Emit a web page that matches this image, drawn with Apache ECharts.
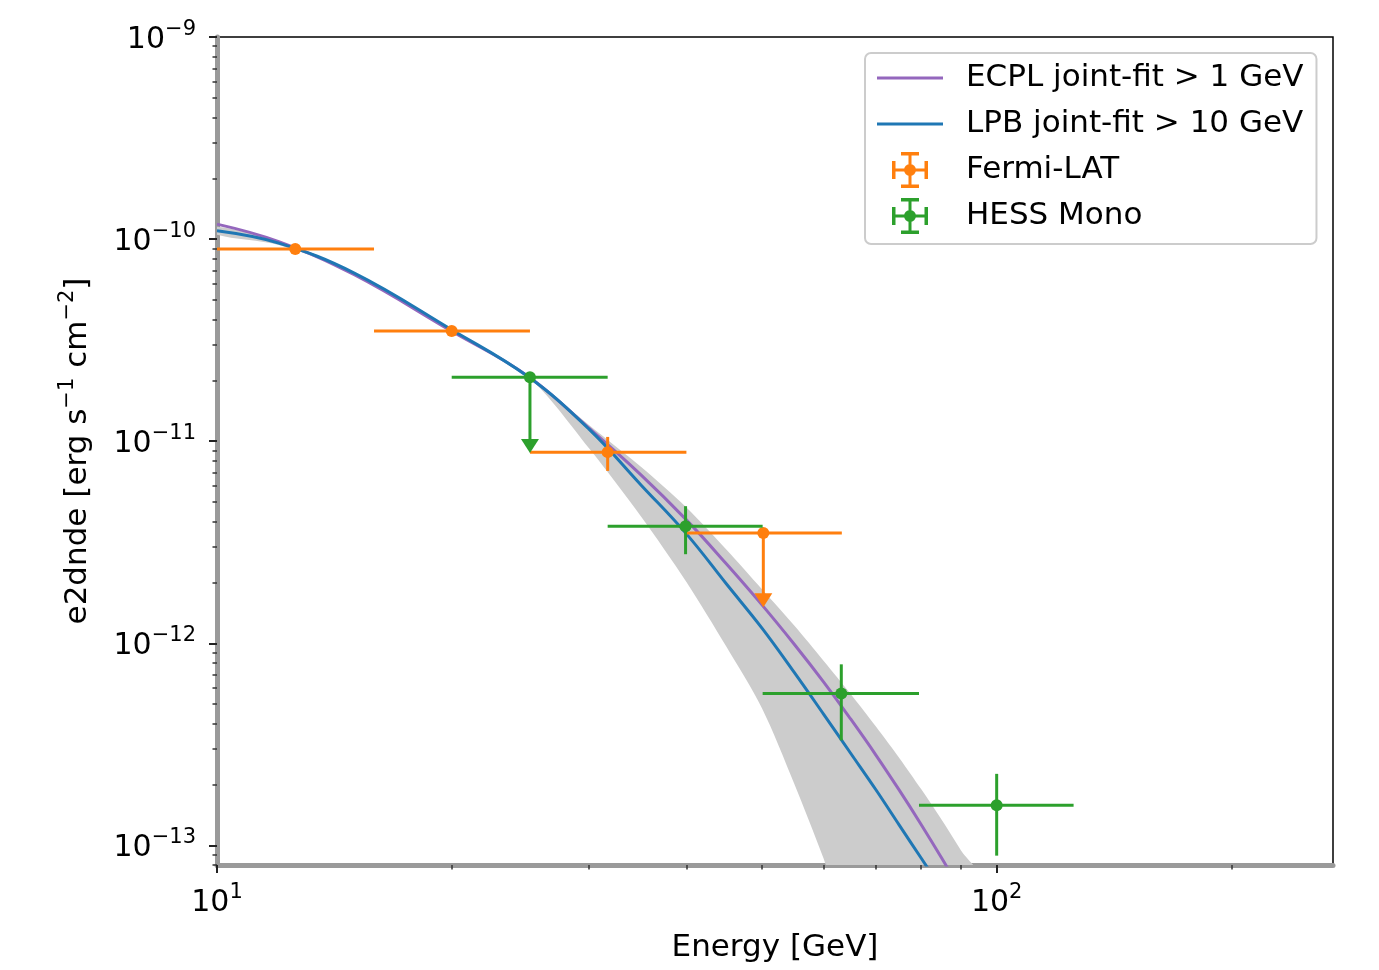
<!DOCTYPE html>
<html><head><meta charset="utf-8">
<script src="https://cdn.jsdelivr.net/npm/echarts@6/dist/echarts.min.js"></script>
<style>html,body{margin:0;padding:0;background:#fff}#c{width:1379px;height:970px}</style>
</head><body><div id="c"></div>
<script>
// ---- model curves ----
const ecplE = [10,12,15,20,25,30,35,40,45,50,55,60,65,70,75,80,85,90];
const ecplFlux = [1.186e-10,9.72e-11,6.66e-11,3.50e-11,2.11e-11,1.16e-11,6.80e-12,4.08e-12,2.475e-12,1.55e-12,9.90e-13,6.43e-13,4.21e-13,2.80e-13,1.876e-13,1.27e-13,8.66e-14,5.95e-14];
const lpbE = [10,12,15,20,25,30,35,40,45,50,55,60,65,70,75,80,85];
const lpbFlux = [1.099e-10,9.55e-11,6.79e-11,3.56e-11,2.10e-11,1.147e-11,6.06e-12,3.48e-12,1.97e-12,1.189e-12,7.18e-13,4.45e-13,2.85e-13,1.885e-13,1.26e-13,8.66e-14,6.09e-14];
// uncertainty band
const bandUpE = [10,12,15,20,25,30,35,40,45,50,55,60,65,70,75,80,85,90,95];
const bandUp = [1.15e-10,9.77e-11,6.86e-11,3.60e-11,2.14e-11,1.204e-11,7.45e-12,4.70e-12,2.91e-12,1.85e-12,1.224e-12,8.18e-13,5.60e-13,3.88e-13,2.71e-13,1.90e-13,1.339e-13,9.44e-14,6.74e-14];
const bandLoE = [10,12,15,20,25,30,35,40,45,50,55,60,65];
const bandLo = [1.05e-10,9.34e-11,6.71e-11,3.50e-11,2.10e-11,9.23e-12,4.23e-12,2.011e-12,9.63e-13,4.77e-13,2.02e-13,8.58e-14,3.60e-14];
// ---- flux points ----
const fermiE = [12.6,20.0,31.7,50.2];
const fermiElo = [10.0,15.9,25.2,40.0];
const fermiEhi = [15.9,25.2,40.0,63.3];
const fermiF = [8.93e-11,3.51e-11,8.83e-12,3.51e-12];
const fermiFlo = [8.6e-11,3.38e-11,7.13e-12,1.51e-12];
const fermiFhi = [9.3e-11,3.65e-11,1.05e-11,3.51e-12];
const fermiUL = [0,0,0,1];
const hessE = [25.2,39.9,63.2,100];
const hessElo = [20.0,31.7,50.1,79.5];
const hessEhi = [31.7,50.1,79.5,125.5];
const hessF = [2.07e-11,3.79e-12,5.64e-13,1.58e-13];
const hessFlo = [8.75e-12,2.76e-12,3.31e-13,8.9e-14];
const hessFhi = [2.07e-11,4.77e-12,7.87e-13,2.26e-13];
const hessUL = [1,0,0,0];
// ---- ticks ----
const xMajor = [10,100];
const xMinor = [20,30,40,50,60,70,80,90,200];
const yMajor = [1e-13,1e-12,1e-11,1e-10,1e-9];
const yMinor = [];
for (let d=-14; d<=-10; d++) for (let k=2; k<=9; k++) { const v=k*Math.pow(10,d); if (v>=8e-14 && v<=1e-9) yMinor.push(v); }

const FONT = 'DejaVu Sans';
function pairs(xs, ys){ return xs.map((x,i)=>[x,ys[i]]); }
function rows(E,lo,hi,F,Flo,Fhi,UL){ return E.map((e,i)=>[e,F[i],lo[i],hi[i],Flo[i],Fhi[i],UL[i]]); }
function expLabel(v){ const e=Math.round(Math.log10(v)); return '{b|10}{s|'+(e<0?'\u2212':'')+Math.abs(e)+'}'; }
const labelRich = {
  b:{fontFamily:FONT,fontSize:30,lineHeight:36,verticalAlign:'bottom',color:'#000'},
  s:{fontFamily:FONT,fontSize:21,lineHeight:20,verticalAlign:'top',color:'#000'}
};
function errRender(color){
  return function(params, api){
    const p = api.coord([api.value(0), api.value(1)]);
    const l = api.coord([api.value(2), api.value(1)]);
    const r = api.coord([api.value(3), api.value(1)]);
    const lo = api.coord([api.value(0), api.value(4)]);
    const hi = api.coord([api.value(0), api.value(5)]);
    const ch = [{type:'line',shape:{x1:l[0],y1:l[1],x2:r[0],y2:r[1]},style:{stroke:color,lineWidth:3}}];
    if (api.value(6)) {
      ch.push({type:'line',shape:{x1:p[0],y1:p[1],x2:lo[0],y2:lo[1]-12},style:{stroke:color,lineWidth:3}});
      ch.push({type:'polygon',shape:{points:[[lo[0]-9,lo[1]-14],[lo[0]+9,lo[1]-14],[lo[0],lo[1]]]},style:{fill:color}});
    } else {
      ch.push({type:'line',shape:{x1:hi[0],y1:hi[1],x2:lo[0],y2:lo[1]},style:{stroke:color,lineWidth:3}});
    }
    ch.push({type:'circle',shape:{cx:p[0],cy:p[1],r:6},style:{fill:color}});
    return {type:'group',children:ch};
  };
}
const lineIcon = 'path://M0,0M66,36M0,16.5h66v3h-66z';
const errIcon = 'path://M0,0M66,36M15,16.5h36v3h-36zM31.5,0h3v36h-3zM15,9h3.5v18h-3.5zM47.5,9h3.5v18h-3.5zM24,0h18v3.5h-18zM24,32.5h18v3.5h-18zM27,18a6,6 0 1,1 12,0a6,6 0 1,1 -12,0z';

const chart = echarts.init(document.getElementById('c'));
chart.setOption({
  animation:false,
  backgroundColor:'#fff',
  grid:{left:217,right:46,top:37,bottom:105,show:true,borderColor:'#000',borderWidth:1.5,backgroundColor:'transparent'},
  legend:{
    left:865, top:53, orient:'vertical', itemWidth:66, itemHeight:36, itemGap:10,
    padding:[7,13,10,12], backgroundColor:'rgba(255,255,255,0.8)', borderColor:'#cccccc', borderWidth:2, borderRadius:6,
    selectedMode:false, itemStyle:{borderWidth:0},
    textStyle:{fontFamily:FONT,fontSize:31,color:'#000',padding:[0,0,0,18],lineHeight:36},
    data:[
      {name:'ECPL joint-fit > 1 GeV',icon:lineIcon},
      {name:'LPB joint-fit > 10 GeV',icon:lineIcon},
      {name:'Fermi-LAT',icon:errIcon},
      {name:'HESS Mono',icon:errIcon}
    ]
  },
  xAxis:[
    {type:'log',logBase:10,min:10,max:270,position:'bottom',
     axisLine:{show:true,lineStyle:{color:'#9a9a9a',width:5}},
     axisTick:{show:true,customValues:xMajor,length:8,lineStyle:{color:'#222',width:2}},
     axisLabel:{customValues:xMajor,formatter:expLabel,rich:labelRich,margin:17},
     splitLine:{show:false},minorTick:{show:false},
     name:'Energy [GeV]',nameLocation:'middle',nameGap:67,
     nameTextStyle:{fontFamily:FONT,fontSize:31,color:'#000'}},
    {type:'log',logBase:10,min:10,max:270,position:'bottom',
     axisLine:{show:false},axisLabel:{show:false},splitLine:{show:false},
     axisTick:{show:true,customValues:xMinor,length:4.5,lineStyle:{color:'#333',width:1.5}}}
  ],
  yAxis:[
    {type:'log',logBase:10,min:8e-14,max:1e-9,position:'left',
     axisLine:{show:true,lineStyle:{color:'#9a9a9a',width:5}},
     axisTick:{show:true,customValues:yMajor,length:8,lineStyle:{color:'#222',width:2}},
     axisLabel:{customValues:yMajor,formatter:expLabel,rich:labelRich,margin:21},
     splitLine:{show:false},
     name:'{n|e2dnde [erg s}{s|\u22121}{n| cm}{s|\u22122}{n|]}',nameLocation:'middle',nameGap:124,nameRotate:90,
     nameTextStyle:{fontFamily:FONT,fontSize:31,color:'#000',rich:{
       n:{fontFamily:FONT,fontSize:31,lineHeight:36,verticalAlign:'bottom',color:'#000'},
       s:{fontFamily:FONT,fontSize:21,lineHeight:20,verticalAlign:'top',color:'#000'}}}},
    {type:'log',logBase:10,min:8e-14,max:1e-9,position:'left',
     axisLine:{show:false},axisLabel:{show:false},splitLine:{show:false},
     axisTick:{show:true,customValues:yMinor,length:4.5,lineStyle:{color:'#333',width:1.5}}}
  ],
  series:[
    {type:'custom',name:'band',clip:true,z:1,silent:true,
     data:[[bandUpE[0],bandUp[0]]],encode:{x:0,y:1},
     renderItem:function(params, api){
       const pts=[];
       for(let i=0;i<bandUpE.length;i++) pts.push(api.coord([bandUpE[i],bandUp[i]]));
       for(let i=bandLoE.length-1;i>=0;i--) pts.push(api.coord([bandLoE[i],bandLo[i]]));
       return {type:'polygon',shape:{points:pts,smooth:0.3},style:{fill:'#cccccc'}};
     }},
    {type:'line',name:'ECPL joint-fit > 1 GeV',data:pairs(ecplE,ecplFlux),symbol:'none',showSymbol:false,smooth:0.4,z:2,
     color:'#9467bd',lineStyle:{color:'#9467bd',width:3}},
    {type:'line',name:'LPB joint-fit > 10 GeV',data:pairs(lpbE,lpbFlux),symbol:'none',showSymbol:false,smooth:0.4,z:3,
     color:'#1f77b4',lineStyle:{color:'#1f77b4',width:3}},
    {type:'custom',name:'Fermi-LAT',clip:true,z:4,itemStyle:{color:'#ff7f0e'},
     data:rows(fermiE,fermiElo,fermiEhi,fermiF,fermiFlo,fermiFhi,fermiUL),encode:{x:0,y:1},
     renderItem:errRender('#ff7f0e')},
    {type:'custom',name:'HESS Mono',clip:true,z:5,itemStyle:{color:'#2ca02c'},
     data:rows(hessE,hessElo,hessEhi,hessF,hessFlo,hessFhi,hessUL),encode:{x:0,y:1},
     renderItem:errRender('#2ca02c')}
  ]
});
</script></body></html>
